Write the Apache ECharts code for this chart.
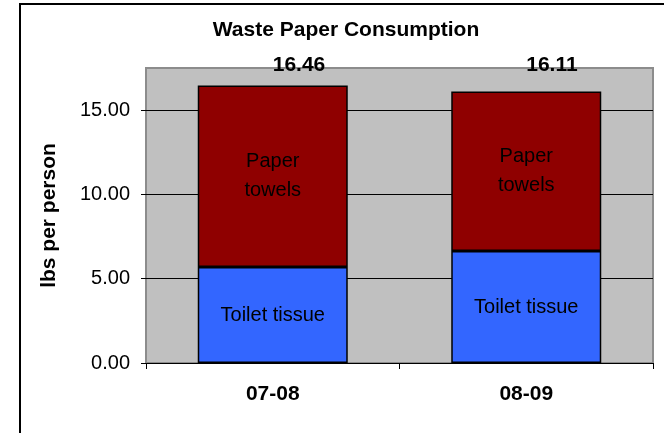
<!DOCTYPE html>
<html><head><meta charset="utf-8">
<script src="https://cdn.jsdelivr.net/npm/echarts@6/dist/echarts.min.js"></script>
<style>html,body{margin:0;padding:0;background:#fff}#c{width:664px;height:433px}</style>
</head><body><div id="c"></div>
<script>
const categories = ['07-08', '08-09'];
const toiletTissue = [5.69, 6.64];
const paperTowels = [10.77, 9.47];
const totals = [16.46, 16.11];
const yMin = 0, yMax = 17.5, yInterval = 5;

const FF = '"Liberation Sans", Arial, sans-serif';
const chart = echarts.init(document.getElementById('c'), null, {renderer: 'canvas'});
chart.setOption({
  animation: false,
  backgroundColor: '#fff',
  title: {
    text: 'Waste Paper Consumption',
    left: 346, top: 20, textAlign: 'center', padding: 0,
    textStyle: {fontFamily: FF, fontSize: 21, fontWeight: 'bold', color: '#000'}
  },
  graphic: [{
    type: 'rect', silent: true, z: 100,
    shape: {x: 20, y: 4, width: 700, height: 500},
    style: {fill: 'none', stroke: '#000', lineWidth: 2}
  }],
  grid: {
    left: 146, right: 11, top: 68, bottom: 70,
    show: true, backgroundColor: '#c0c0c0', borderColor: '#8c8c8c', borderWidth: 2
  },
  xAxis: {
    type: 'category', data: categories,
    axisLine: {show: true, lineStyle: {color: '#000', width: 1}},
    axisTick: {show: true, length: 6, lineStyle: {color: '#000'}},
    axisLabel: {margin: 21, fontFamily: FF, fontSize: 21, fontWeight: 'bold', color: '#000'}
  },
  yAxis: {
    type: 'value', min: yMin, max: yMax, interval: yInterval,
    name: 'lbs per person', nameLocation: 'middle', nameGap: 86, nameRotate: 90,
    nameTextStyle: {fontFamily: FF, fontSize: 21, fontWeight: 'bold', color: '#000'},
    axisLine: {show: false},
    axisTick: {show: true, length: 5, lineStyle: {color: '#000'}},
    axisLabel: {margin: 16, fontFamily: FF, fontSize: 20, color: '#000', showMaxLabel: false,
      formatter: v => v.toFixed(2)},
    splitLine: {show: true, showMinLine: false, showMaxLine: false, lineStyle: {color: '#000', width: 1}}
  },
  series: [
    {
      name: 'Toilet tissue', type: 'bar', stack: 'w', data: toiletTissue,
      barWidth: 150, barGap: '-100%',
      itemStyle: {color: '#3366ff', borderColor: '#000', borderWidth: 1.5},
      label: {show: true, position: 'inside', formatter: 'Toilet tissue',
        fontFamily: FF, fontSize: 20, color: '#000'}
    },
    {
      name: 'Paper towels', type: 'bar', stack: 'w', data: paperTowels,
      barWidth: 150, barGap: '-100%',
      itemStyle: {color: '#8f0000', borderColor: '#000', borderWidth: 1.5},
      label: {show: true, position: 'inside', formatter: 'Paper\ntowels', lineHeight: 29,
        fontFamily: FF, fontSize: 20, color: '#000'}
    },
    {
      name: 'Total', type: 'bar', data: totals, silent: true, z: 1,
      barWidth: 150, barGap: '-100%',
      itemStyle: {color: 'rgba(0,0,0,0)', borderWidth: 0},
      label: {show: true, position: 'top', formatter: p => p.value.toFixed(2),
        fontFamily: FF, fontSize: 21, fontWeight: 'bold', color: '#000'},
      labelLayout: {y: 65, verticalAlign: 'middle'}
    }
  ]
});
</script>
</body></html>
